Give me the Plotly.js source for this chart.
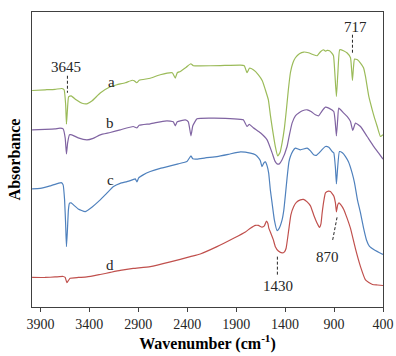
<!DOCTYPE html>
<html>
<head>
<meta charset="utf-8">
<script src="https://cdn.plot.ly/plotly-3.0.1.min.js"></script>
<style>html,body{margin:0;padding:0;background:#fff;}#chart{width:396px;height:356px;}</style>
</head>
<body>
<div id="chart"></div>
<script>
// Wavenumber (cm-1) and absorbance (arbitrary units, offset) per sample
const wnA = [3985,3852,3750,3681,3658,3642,3634,3624,3612,3586,3535,3474,3425,3371,3289,3187,3119,3034,2962,2942,2916,2891,2778,2676,2553,2522,2502,2471,2410,2364,2338,2267,2062,1857,1817,1789,1765,1725,1673,1633,1602,1571,1551,1533,1500,1476,1453,1431,1407,1387,1367,1346,1320,1295,1254,1210,1162,1111,1073,1039,1008,988,971,947,927,906,891,876,862,842,804,766,732,722,712,702,691,661,630,599,579,545,510,487,459,426,400];
const absA = [2.163,2.17,2.175,2.183,2.17,2.02,1.827,1.97,2.10,2.11,2.07,2.035,2.03,2.06,2.137,2.20,2.22,2.24,2.265,2.26,2.24,2.265,2.285,2.32,2.34,2.287,2.34,2.353,2.395,2.43,2.41,2.408,2.412,2.417,2.41,2.34,2.385,2.37,2.32,2.26,2.17,2.07,1.92,1.80,1.603,1.51,1.54,1.64,1.79,1.97,2.17,2.34,2.44,2.49,2.53,2.547,2.54,2.52,2.51,2.55,2.57,2.555,2.563,2.56,2.54,2.51,2.32,2.103,2.32,2.57,2.56,2.537,2.49,2.39,2.263,2.39,2.477,2.47,2.437,2.39,2.303,2.103,1.97,1.89,1.803,1.703,1.72];

const wnB = [3985,3852,3750,3699,3668,3647,3634,3622,3603,3579,3514,3425,3361,3289,3187,3085,2952,2914,2891,2778,2676,2607,2543,2522,2502,2420,2389,2362,2343,2300,2164,2011,1857,1827,1789,1765,1725,1653,1584,1533,1505,1482,1459,1431,1380,1356,1329,1295,1261,1223,1175,1131,1090,1056,1029,988,954,903,888,876,863,852,801,763,732,709,681,630,562,494,446,400];
const absB = [1.77,1.775,1.78,1.787,1.78,1.69,1.53,1.64,1.72,1.72,1.69,1.67,1.685,1.72,1.743,1.77,1.803,1.79,1.815,1.83,1.85,1.86,1.85,1.81,1.85,1.87,1.85,1.71,1.81,1.88,1.887,1.885,1.875,1.87,1.803,1.825,1.79,1.74,1.67,1.54,1.46,1.43,1.43,1.47,1.603,1.72,1.837,1.91,1.937,1.96,1.97,1.95,1.92,1.91,1.95,1.997,1.987,1.953,1.85,1.71,1.87,1.987,1.937,1.90,1.853,1.763,1.837,1.803,1.703,1.603,1.54,1.477];

const wnC = [3985,3903,3801,3719,3688,3668,3653,3642,3634,3624,3614,3603,3586,3562,3514,3443,3371,3289,3228,3153,3085,3016,2962,2931,2914,2896,2850,2778,2676,2573,2492,2403,2362,2343,2300,2215,2096,1980,1857,1755,1704,1670,1653,1636,1617,1602,1584,1568,1551,1533,1510,1482,1464,1431,1413,1397,1380,1361,1346,1320,1295,1244,1175,1141,1108,1080,1056,1029,988,954,919,903,886,876,865,845,815,783,753,715,691,661,630,599,569,538,487,400];
const absC = [1.18,1.185,1.21,1.235,1.243,1.22,1.07,0.82,0.603,0.77,0.97,1.037,1.04,1.02,0.98,0.953,1.00,1.07,1.13,1.203,1.235,1.253,1.27,1.28,1.25,1.29,1.32,1.353,1.385,1.41,1.43,1.453,1.51,1.48,1.477,1.49,1.503,1.525,1.55,1.537,1.52,1.487,1.46,1.403,1.44,1.45,1.41,1.337,1.17,1.037,0.87,0.763,0.78,0.87,0.97,1.12,1.29,1.45,1.503,1.56,1.587,1.57,1.587,1.56,1.52,1.515,1.537,1.565,1.603,1.595,1.553,1.54,1.39,1.23,1.37,1.553,1.54,1.503,1.45,1.337,1.24,1.07,0.94,0.79,0.67,0.605,0.57,0.525];

const wnD = [3985,3852,3750,3668,3647,3630,3617,3596,3514,3425,3289,3187,3085,2952,2778,2573,2369,2267,2096,1926,1806,1755,1704,1673,1636,1612,1591,1576,1566,1551,1520,1500,1469,1431,1407,1390,1363,1341,1312,1285,1244,1213,1175,1141,1108,1073,1049,1034,1022,1003,988,957,937,903,886,876,863,850,830,801,768,732,681,630,579,545,507,456,400];
const absD = [0.295,0.295,0.30,0.305,0.295,0.243,0.26,0.287,0.295,0.30,0.325,0.345,0.365,0.385,0.403,0.45,0.503,0.53,0.603,0.687,0.75,0.787,0.815,0.815,0.797,0.81,0.857,0.835,0.785,0.75,0.67,0.603,0.56,0.54,0.55,0.587,0.77,0.92,1.003,1.045,1.07,1.075,1.05,1.01,0.92,0.837,0.795,0.83,0.937,1.07,1.14,1.157,1.153,1.11,1.04,0.95,1.02,1.04,1.02,0.975,0.89,0.785,0.58,0.403,0.27,0.245,0.225,0.22,0.215];

const seriesNames = ['a','b','c','d'];
const seriesColors = ['#9BBB59','#8064A2','#4F81BD','#C0504D'];
const seriesWn = [wnA, wnB, wnC, wnD];
const seriesAbs = [absA, absB, absC, absD];

// curve letter labels (position in data units)
const letterWn = [3170, 3187, 3187, 3187];
const letterAbs = [2.243, 1.837, 1.27, 0.42];

// peak labels
const peakText = ['3645', '717', '1430', '870'];
const peakTextWn = [3637, 681, 1469, 971];
const peakTextAbs = [2.40, 2.80, 0.21, 0.503];
const peakLineX0 = [3624, 712, 1479, 914];
const peakLineY0 = [2.31, 2.72, 0.503, 0.67];
const peakLineX1 = [3624, 712, 1479, 868];
const peakLineY1 = [2.14, 2.54, 0.303, 0.903];

const tickVals = [3900, 3400, 2900, 2400, 1900, 1400, 900, 400];
const tickText = ['3900', '3400', '2900', '2400', '1900', '1400', '900', '400'];

const serif = 'Liberation Serif, Times New Roman, serif';
const axisColor = '#404040';

const traces = seriesNames.map((n, i) => ({
  x: seriesWn[i], y: seriesAbs[i], type: 'scatter', mode: 'lines', name: n,
  line: {color: seriesColors[i], width: 1.2, shape: 'spline', smoothing: 0.4},
  hoverinfo: 'skip'
}));

const annotations = [];
seriesNames.forEach((n, i) => annotations.push({
  x: letterWn[i], y: letterAbs[i], text: n, showarrow: false,
  font: {family: serif, size: 15, color: '#262626'}, xanchor: 'center', yanchor: 'middle'
}));
peakText.forEach((t, i) => annotations.push({
  x: peakTextWn[i], y: peakTextAbs[i], text: t, showarrow: false,
  font: {family: serif, size: 15, color: '#262626'}, xanchor: 'center', yanchor: 'middle'
}));

const shapes = peakText.map((t, i) => ({
  type: 'line', xref: 'x', yref: 'y',
  x0: peakLineX0[i], y0: peakLineY0[i], x1: peakLineX1[i], y1: peakLineY1[i],
  line: {color: '#262626', width: 1, dash: '3px,2px'}
}));

const layout = {
  width: 396, height: 356,
  margin: {l: 32, r: 13, t: 12, b: 49},
  paper_bgcolor: '#fff', plot_bgcolor: '#fff',
  showlegend: false,
  xaxis: {
    range: [3986, 400], tickvals: tickVals, ticktext: tickText,
    showline: true, mirror: true, linecolor: axisColor, linewidth: 1.2,
    ticks: 'outside', ticklen: 4, tickcolor: axisColor, tickwidth: 1,
    showgrid: false, zeroline: false,
    tickfont: {family: serif, size: 14, color: '#262626'},
    title: {text: 'Wavenumber (cm<sup>-1</sup>)', font: {family: serif, size: 16, color: '#000', weight: 'bold'}, standoff: 4}
  },
  yaxis: {
    range: [0, 2.947], showline: true, mirror: true, linecolor: axisColor, linewidth: 1.2,
    showticklabels: false, ticks: '', showgrid: false, zeroline: false,
    title: {text: '<b>Absorbance</b>', font: {family: serif, size: 16, color: '#000'}, standoff: 6}
  },
  annotations: annotations,
  shapes: shapes
};
layout.xaxis.title.text = '<b>Wavenumber (cm<sup>-1</sup>)</b>';

Plotly.newPlot('chart', traces, layout, {displayModeBar: false, staticPlot: true});
</script>
</body>
</html>
